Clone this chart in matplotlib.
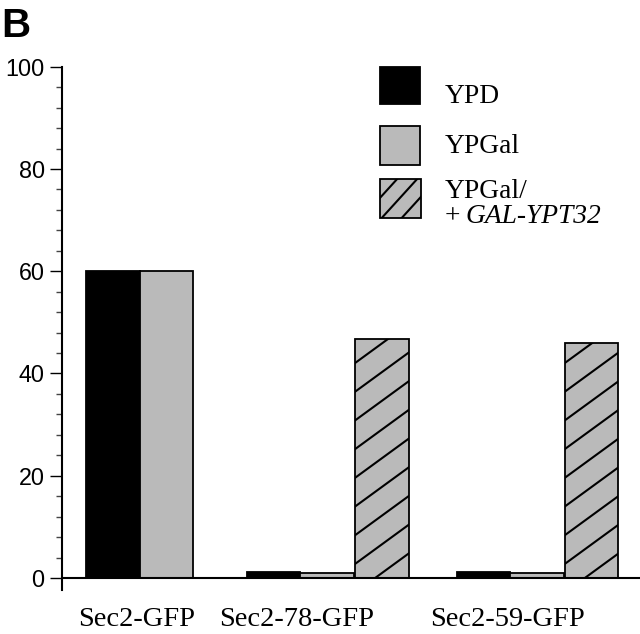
import numpy as np
import matplotlib
matplotlib.use("Agg")
import matplotlib.pyplot as plt
from matplotlib.lines import Line2D
from matplotlib.patches import Rectangle
from matplotlib.transforms import IdentityTransform, blended_transform_factory

# ---- data ----
categories = ["Sec2-GFP", "Sec2-78-GFP", "Sec2-59-GFP"]
series_names = ["YPD", "YPGal", "YPGal/"]
ypd = [60.0, 1.2, 1.2]
ypgal = [60.0, 1.0, 1.0]
ypgal_ypt32 = [np.nan, 46.8, 46.0]
yticks = [0, 20, 40, 60, 80, 100]

W, H = 640, 634
fig = plt.figure(figsize=(W / 100, H / 100), dpi=100)

def fx(px):
    return px / W

def fy(py):
    return 1 - py / H

ax_left, ax_right, ax_top, ax_bot = 62, 640, 66.7, 590
ax = fig.add_axes([fx(ax_left), fy(ax_bot), fx(ax_right - ax_left), fy(ax_top) - fy(ax_bot)])

bw = 1.0
unit = 53.5
group_left = [0.0, 3.0, 6.93]
hatch_off = [2.03, 2.03, 2.02]
ax.set_xlim((ax_left - 86) / unit, (ax_right - 86) / unit)
ppu = (578 - 66.7) / 100.0
ax.set_ylim(-(ax_bot - 578) / ppu, 100)

gray = "#bababa"
elw = 1.3
xs0 = np.array(group_left)
ax.bar(xs0, ypd, width=bw, align="edge", color="black", edgecolor="black", linewidth=elw, zorder=3)
ax.bar(xs0 + 1.0, ypgal, width=bw, align="edge", color=gray, edgecolor="black", linewidth=elw, zorder=3)
hbars = ax.bar(xs0 + np.array(hatch_off), ypgal_ypt32, width=bw, align="edge", color=gray,
               edgecolor="black", linewidth=elw, zorder=3)

ax.axhline(0, color="black", linewidth=1.5, zorder=4)

def manual_hatch(patch, x0l, y0b, x1r, y1t, slope, vsp, phase, lw=1.5):
    xs = np.array([x0l, x1r])
    kmin = int(np.floor(-(slope * (x1r - x0l) + 10) / vsp)) - 1
    kmax = int(np.ceil((y1t - y0b) / vsp)) + 2
    for k in range(kmin, kmax):
        ys = y0b + slope * (xs - (x0l + phase)) + k * vsp
        ln = Line2D(xs, ys, transform=IdentityTransform(), color="black", linewidth=lw, zorder=5)
        ln.set_clip_path(patch)
        fig.add_artist(ln)

fig.canvas.draw()
for b in hbars:
    if not np.isfinite(b.get_height()):
        continue
    bb = b.get_window_extent()
    manual_hatch(b, bb.x0, bb.y0, bb.x1, bb.y1, 0.73, 28.7, 20)

# ---- axes styling ----
for s in ["top", "right", "bottom"]:
    ax.spines[s].set_visible(False)
ax.spines["left"].set_linewidth(1.5)
ax.set_yticks(yticks)
ax.set_yticks(np.arange(0, 101, 4), minor=True)
ax.tick_params(axis="y", which="major", direction="out", length=9, width=1.0, pad=3.5,
               labelsize=16.8)
ax.tick_params(axis="y", which="minor", direction="out", length=4.5, width=1.0, color="#444444")
for lab in ax.get_yticklabels():
    lab.set_fontfamily("Liberation Sans")
ax.set_xticks([])

tr = blended_transform_factory(ax.transData, fig.transFigure)
for g, c in zip(group_left, categories):
    ax.text(g + 1.0 - 0.06, fy(626), c, transform=tr, ha="center", va="baseline",
            fontsize=20.5, family="Liberation Serif")

# ---- panel letter ----
fig.text(fx(1), fy(37), "B", fontsize=29, fontweight="bold", family="Liberation Sans",
         ha="left", va="baseline")

# ---- legend (manual) ----
def fig_rect(x0, y0, x1, y1, fc, ec):
    r = Rectangle((fx(x0), fy(y1)), fx(x1 - x0), fy(y0) - fy(y1), transform=fig.transFigure,
                  facecolor=fc, edgecolor=ec, linewidth=1.3)
    fig.add_artist(r)
    return r

fig_rect(380, 67, 420, 104, "black", "black")
fig_rect(380, 126, 420, 165, gray, "black")
hr = fig_rect(380, 179, 421, 218, gray, "black")
fig.canvas.draw()
bb = hr.get_window_extent()
manual_hatch(hr, bb.x0, bb.y0, bb.x1, bb.y1, 1.1, 22.0, 21.7)

fs_leg = 19.8
fig.text(fx(445), fy(103), series_names[0], fontsize=fs_leg, family="Liberation Serif", va="baseline")
fig.text(fx(445), fy(153), series_names[1], fontsize=fs_leg, family="Liberation Serif", va="baseline")
fig.text(fx(445), fy(198), series_names[2], fontsize=fs_leg, family="Liberation Serif", va="baseline")
fig.text(fx(445), fy(223), "+", fontsize=fs_leg, family="Liberation Serif", va="baseline")
fig.text(fx(465), fy(223), "GAL-YPT32", fontsize=fs_leg, family="Liberation Serif",
         style="italic", va="baseline")

fig.savefig("out.png", dpi=100)
